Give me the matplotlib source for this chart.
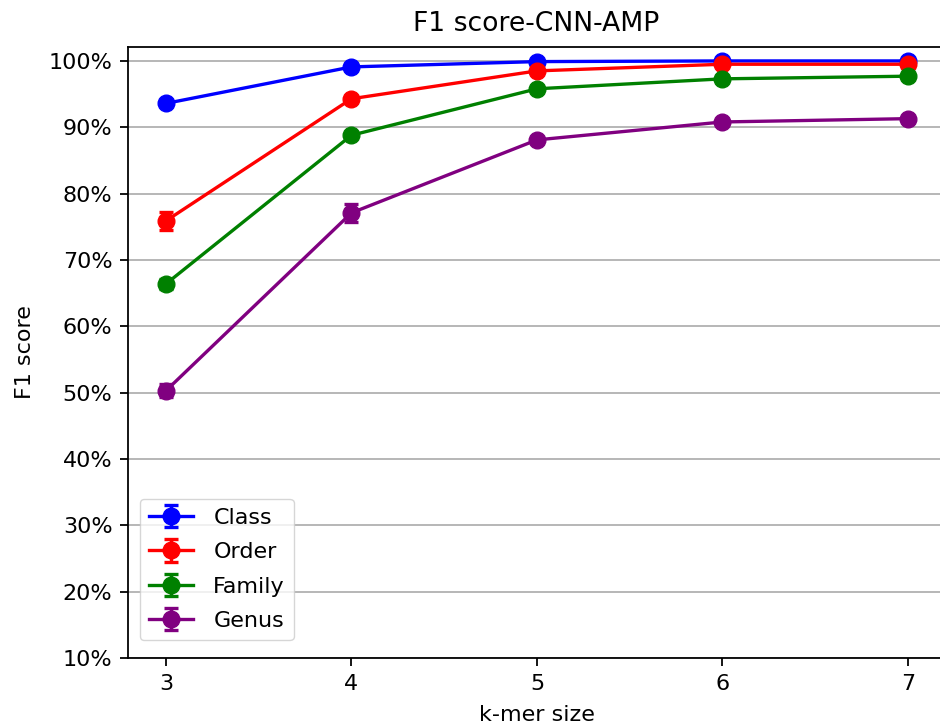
import matplotlib
matplotlib.use("Agg")
import matplotlib.pyplot as plt
from matplotlib.ticker import PercentFormatter

kmers = [3, 4, 5, 6, 7]
class_f1 = [93.6, 99.1, 99.9, 100.0, 100.0]
order_f1 = [75.9, 94.3, 98.5, 99.5, 99.5]
family_f1 = [66.4, 88.8, 95.8, 97.3, 97.7]
genus_f1 = [50.3, 77.1, 88.1, 90.8, 91.3]
class_err = [0.2, 0.2, 0.1, 0.1, 0.1]
order_err = [1.4, 0.3, 0.2, 0.1, 0.1]
family_err = [0.8, 0.4, 0.2, 0.2, 0.1]
genus_err = [1.0, 1.4, 0.3, 0.2, 0.2]
labels = ["Class", "Order", "Family", "Genus"]
colors = ["blue", "red", "green", "purple"]

s = 1.6
fig = plt.figure(figsize=(9.4, 7.27), dpi=100)
ax = fig.add_axes([128/940, 69/727, 817/940, 611/727])
for vals, errs, lab, col in zip([class_f1, order_f1, family_f1, genus_f1],
                                [class_err, order_err, family_err, genus_err],
                                labels, colors):
    ax.errorbar(kmers, vals, yerr=errs, label=lab, color=col, marker='o',
                markersize=7.5*s, capsize=3.3*s, linewidth=1.5*s,
                elinewidth=1.5*s, capthick=1.5*s)

ax.set_xlim(2.795, 7.2)
ax.set_ylim(10, 102.1)
ax.set_xticks(kmers)
ax.set_yticks(range(10, 101, 10))
ax.yaxis.set_major_formatter(PercentFormatter(decimals=0))
ax.grid(axis='y', color='#b0b0b0', linewidth=0.8*s)
ax.set_axisbelow(True)
for sp in ax.spines.values():
    sp.set_linewidth(0.8*s)
ax.set_xlabel("k-mer size", fontsize=10*s, labelpad=5*s)
ax.set_ylabel("F1 score", fontsize=10*s, labelpad=6*s)
ax.set_title("F1 score-CNN-AMP", fontsize=12*s, pad=7*s)
ax.tick_params(labelsize=10*s, width=0.8*s, length=3.5*s, pad=3.5*s)
ax.legend(loc='lower left', fontsize=10*s, borderaxespad=0,
          bbox_to_anchor=(12/817, 18/611), labelspacing=0.65, handletextpad=0.9)
fig.savefig("out.png", dpi=100)
